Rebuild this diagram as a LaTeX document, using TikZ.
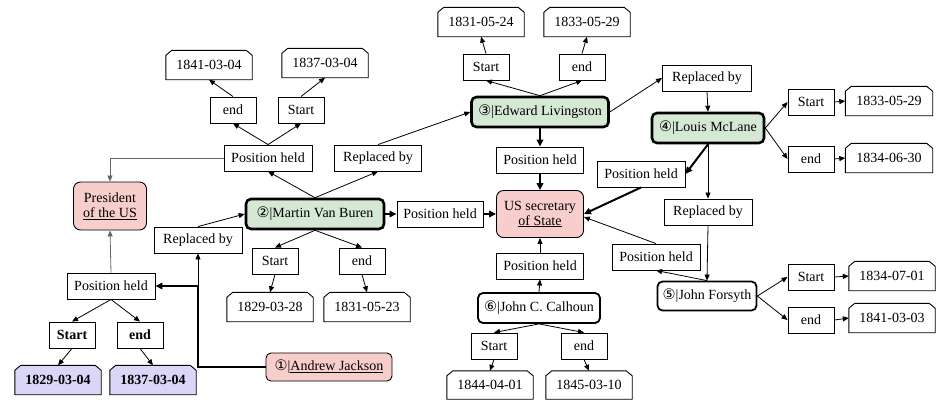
\documentclass[tikz,border=0pt]{standalone}
\usepackage{fontspec}
\setmainfont{Liberation Serif}
\newfontfamily\symf{DejaVu Sans}
\usetikzlibrary{arrows.meta,backgrounds}
\definecolor{pinkf}{HTML}{F8CECC}
\definecolor{greenf}{HTML}{D5E8D4}
\definecolor{purpf}{HTML}{DAD6F7}
\newcommand{\cnum}[1]{{\symf\fontsize{14.5}{16}\selectfont #1}}
\begin{document}
\begin{tikzpicture}[x=1pt,y=-1pt,
  every node/.style={font=\fontsize{14}{16}\selectfont, inner sep=0pt, align=center},
  box/.style={draw, line width=0.9pt, fill=white, minimum height=26pt},
  sm/.style={box, minimum width=46pt},
  wd/.style={box, minimum width=88pt},
  dt/.style={minimum width=86pt, minimum height=29pt},
  person/.style={draw, rounded corners=5pt, minimum height=30pt, fill=white},
  keyp/.style={person, line width=2.6pt, fill=greenf},
  minor/.style={person, line width=1.8pt},
  concept/.style={draw, line width=0.9pt, rounded corners=7pt, fill=pinkf},
  arr/.style={-{Triangle[length=6pt,width=5pt]}, line width=0.8pt},
  garr/.style={arr, draw=black!60},
  tarr/.style={-{Triangle[length=7pt,width=6.5pt]}, line width=2pt},
]
\useasboundingbox (0,0) rectangle (937,400);

% ---- left part
\node[dt] (D1) at (209,65) {1841-03-04};
\node[dt] (D2) at (325,63) {1837-03-04};
\node[sm] (E1) at (233,110) {end};
\node[sm] (S1) at (301,110) {Start};
\node[wd] (PHtl) at (268,158) {Position held};
\node[concept, minimum width=73pt, minimum height=48pt] (Pres) at (110,206) {President\\[-1pt]\underline{of the US}};
\node[wd] (RBl) at (198,240) {Replaced by};
\node[wd] (PHbl) at (111,286) {Position held};
\node[sm, font=\fontsize{14}{16}\selectfont\bfseries] (SB) at (72,335) {Start};
\node[sm, font=\fontsize{14}{16}\selectfont\bfseries] (EB) at (140,335) {end};
\node[dt, font=\fontsize{14}{16}\selectfont\bfseries] (DB1) at (58,380) {1829-03-04};
\node[dt, font=\fontsize{14}{16}\selectfont\bfseries] (DB2) at (153,380) {1837-03-04};
\node[concept, rounded corners=5pt, minimum width=126pt, minimum height=28pt] (AJ) at (329,367) {\cnum{①}|\underline{Andrew Jackson}};

% ---- Martin Van Buren
\node[keyp, minimum width=138pt] (MVB) at (315,214) {\cnum{②}|Martin Van Buren};
\node[sm] (S5) at (275,261) {Start};
\node[sm] (E5) at (362,261) {end};
\node[dt] (D9) at (270,307) {1829-03-28};
\node[dt] (D10) at (367,307) {1831-05-23};
\node[wd, minimum width=86pt] (PHm) at (440,214) {Position held};
\node[wd, minimum width=87pt] (RBm) at (378,158) {Replaced by};

% ---- US secretary of State
\node[concept, minimum width=87pt, minimum height=47pt] (US) at (540,214) {US secretary\\[-1pt]\underline{of State}};
\node[wd, minimum width=87pt] (PHt) at (540,160) {Position held};
\node[wd, minimum width=87pt] (PHb) at (540,266) {Position held};

% ---- Calhoun
\node[minor, minimum width=122pt] (Cal) at (539,308) {\cnum{⑥}|John C. Calhoun};
\node[sm] (S6) at (494,346) {Start};
\node[sm] (E6) at (584,346) {end};
\node[dt, minimum height=28pt] (D11) at (490,385) {1844-04-01};
\node[dt, minimum height=28pt] (D12) at (589,385) {1845-03-10};

% ---- Edward Livingston
\node[keyp, minimum width=137pt] (EL) at (540,112) {\cnum{③}|Edward Livingston};
\node[sm] (S2) at (486,67) {Start};
\node[sm] (E2) at (582,67) {end};
\node[dt] (D3) at (481,22) {1831-05-24};
\node[dt] (D4) at (587,22) {1833-05-29};

% ---- Louis McLane
\node[wd, minimum width=89pt] (RBtr) at (707,78) {Replaced by};
\node[keyp, minimum width=112pt] (LM) at (708,128) {\cnum{④}|Louis McLane};
\node[sm] (S3) at (811,102) {Start};
\node[sm] (E3) at (811,159) {end};
\node[dt, minimum width=87pt] (D5) at (889,101) {1833-05-29};
\node[dt, minimum width=87pt] (D6) at (889,158) {1834-06-30};
\node[wd] (PHr) at (641,174) {Position held};
\node[wd] (RBr) at (708,212) {Replaced by};

% ---- John Forsyth
\node[wd] (PHlr) at (656,257) {Position held};
\node[minor, minimum width=99pt, minimum height=29pt] (JF) at (707,296) {\cnum{⑤}|John Forsyth};
\node[sm] (S4) at (811,277) {Start};
\node[sm] (E4) at (811,320) {end};
\node[dt] (D7) at (892,276) {1834-07-01};
\node[dt] (D8) at (892,318) {1841-03-03};

% ---- date frames (chamfered top corners)
\begin{scope}[on background layer]
\foreach \n/\f in {D1/white,D2/white,D3/white,D4/white,D5/white,D6/white,D7/white,D8/white,D9/white,D10/white,D11/white,D12/white,DB1/purpf,DB2/purpf}
  \filldraw[fill=\f, line width=0.9pt]
    (\n.south west) -- ([yshift=-5pt]\n.north west) -- ([xshift=6pt]\n.north west)
    -- ([xshift=-6pt]\n.north east) -- ([yshift=-5pt]\n.north east) -- (\n.south east) -- cycle;
\end{scope}

% ---- connectors
\draw[arr] (PHtl.north) -- (E1.south);
\draw[arr] (PHtl.north) -- (S1.south);
\draw[arr] (E1.north) -- (D1.south);
\draw[arr] (S1.north) -- (D2.south);
\draw[garr] (PHtl.west) -| (Pres.north);
\draw[arr] (MVB.north) -- (PHtl.south);
\draw[arr] (MVB.north) -- (RBm.south);
\draw[arr] (RBm.north) -- (EL.west);
\draw[arr] (RBl.north) -- (MVB.west);
\draw[tarr] (MVB.east) -- (PHm.west);
\draw[tarr] (PHm.east) -- (US.west);
\draw[arr] (MVB.south) -- (S5.north);
\draw[arr] (MVB.south) -- (E5.north);
\draw[arr] (S5.south) -- (D9.north);
\draw[arr] (E5.south) -- (D10.north);

\draw[garr] (PHbl.north) -- (Pres.south);
\draw[arr] (PHbl.south) -- (SB.north);
\draw[arr] (PHbl.south) -- (EB.north);
\draw[arr] (SB.south) -- (DB1.north);
\draw[arr] (EB.south) -- (DB2.north);
\coordinate (j) at (198,367);
\draw[tarr] (AJ.west) -- (j) |- (PHbl.east);
\draw[arr] (j) -- (RBl.south);

\draw[arr] (EL.north) -- (S2.south);
\draw[arr] (EL.north) -- (E2.south);
\draw[arr] (S2.north) -- (D3.south);
\draw[arr] (E2.north) -- (D4.south);
\draw[tarr] (EL.south) -- (PHt.north);
\draw[tarr] (PHt.south) -- (US.north);
\draw[arr] (EL.east) -- (RBtr.west);

\draw[arr] (RBtr.south) -- (LM.north);
\draw[arr] (LM.east) -- (S3.west);
\draw[arr] (LM.east) -- (E3.west);
\draw[arr] (S3.east) -- (D5.west);
\draw[arr] (E3.east) -- (D6.west);
\draw[tarr] (LM.south) -- (PHr.east);
\draw[tarr] (PHr.south) -- (US.east);
\draw[arr] (LM.south) -- (RBr.north);
\draw[arr] (RBr.south) -- (JF.north);
\draw[arr] (JF.north) -- (PHlr.south);
\draw[arr] (PHlr.north) -- ([yshift=-3pt]US.east);
\draw[arr] (JF.east) -- (S4.west);
\draw[arr] (JF.east) -- (E4.west);
\draw[arr] (S4.east) -- (D7.west);
\draw[arr] (E4.east) -- (D8.west);

\draw[arr] (Cal.north) -- (PHb.south);
\draw[arr] (PHb.north) -- (US.south);
\draw[arr] (Cal.south) -- (S6.north);
\draw[arr] (Cal.south) -- (E6.north);
\draw[arr] (S6.south) -- (D11.north);
\draw[arr] (E6.south) -- (D12.north);
\end{tikzpicture}
\end{document}
